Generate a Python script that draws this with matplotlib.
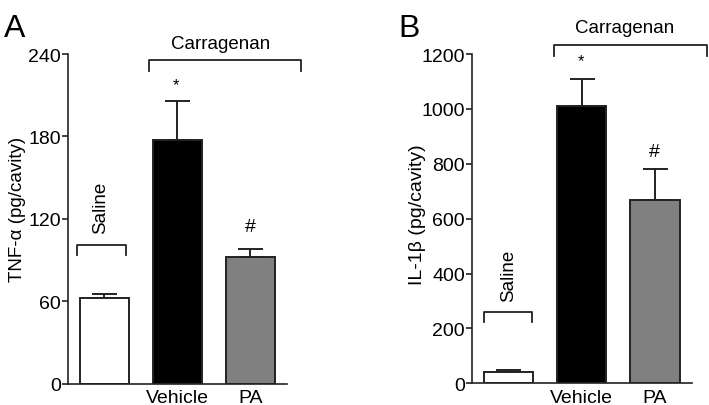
import matplotlib
matplotlib.use("Agg")
import matplotlib.pyplot as plt

plt.rcParams['font.family'] = ['Liberation Sans', 'DejaVu Sans']

# data
groups = ["", "Vehicle", "PA"]
bar_colors = ["white", "black", "#808080"]
tnf_mean = [62.3, 177.6, 91.9]
tnf_err = [3.0, 28.0, 6.0]
il1b_mean = [40, 1009, 667]
il1b_err = [8, 100, 115]

fig = plt.figure(figsize=(7.09, 4.06), dpi=100)

def panel(rect, means, errs, ymax, yticks, ylabel, lab_xy, lab_size, letter, letter_x, brackets):
    ax = fig.add_axes(rect)
    x = range(len(means))
    ax.bar(x, means, width=0.67, color=bar_colors, edgecolor="#222222", linewidth=1.4, zorder=2)
    ax.errorbar(x, means, yerr=[[0]*len(errs), errs], fmt="none", ecolor="#222222",
                elinewidth=1.4, capsize=9, capthick=1.4, zorder=1)
    ax.set_xlim(-0.5, 2.5)
    ax.set_ylim(0, ymax)
    ax.set_yticks(yticks)
    ax.set_xticks(list(x))
    ax.set_xticklabels(groups, fontsize=14)
    ax.tick_params(axis="x", length=0, pad=4)
    ax.tick_params(axis="y", labelsize=14, length=4, width=1.2, pad=1, color="#222222")
    for s in ["top", "right"]:
        ax.spines[s].set_visible(False)
    for s in ["left", "bottom"]:
        ax.spines[s].set_linewidth(1.2)
        ax.spines[s].set_color("#222222")
    ax.set_ylabel(ylabel, fontsize=lab_size)
    ax.yaxis.set_label_coords(*lab_xy)
    ax.patch.set_alpha(0)
    ax.text(letter_x, 1.08, letter, transform=ax.transAxes, fontsize=23, va="center", ha="left")
    for b in brackets:
        x0, x1, y0, y1 = b["line"]
        ax.plot([x0, x0, x1, x1], [y1, y0, y0, y1], color="#222222", lw=1.3, clip_on=False)
        tx, ty = b["text_pos"]
        ax.text(tx, ty, b["text"], fontsize=b.get("size", 13.5), ha="center", va="center",
                rotation=b.get("rot", 0), clip_on=False)
    return ax

panel([67.7/709, (406-384.5)/406, 219/709, 329.5/406], tnf_mean, tnf_err, 240,
      [0, 60, 120, 180, 240], "TNF-\u03b1 (pg/cavity)", (-0.19, 0.53), 13.5, "A", -0.29,
      [dict(line=(-0.37, 0.30, 101.1, 93.6), text="Saline", text_pos=(-0.05, 129), rot=90),
       dict(line=(0.607, 2.70, 235.8, 227.8), text="Carragenan", text_pos=(1.6, 248)),
       dict(line=(1, 1, -10, -10), text="*", text_pos=(0.99, 218), size=12),
       dict(line=(2, 2, -10, -10), text="#", text_pos=(2.0, 114), size=14)])

panel([471.7/709, (406-384.3)/406, 220/709, 329.3/406], il1b_mean, il1b_err, 1200,
      [0, 200, 400, 600, 800, 1000, 1200], "IL-1\u03b2 (pg/cavity)", (-0.21, 0.515), 14, "B", -0.335,
      [dict(line=(-0.337, 0.327, 261, 224.5), text="Saline", text_pos=(0.0, 395), rot=90),
       dict(line=(0.625, 2.71, 1233, 1192), text="Carragenan", text_pos=(1.59, 1298)),
       dict(line=(1, 1, -50, -50), text="*", text_pos=(0.99, 1176), size=12),
       dict(line=(2, 2, -50, -50), text="#", text_pos=(1.99, 843), size=14)])

fig.savefig("out.png", dpi=100)
